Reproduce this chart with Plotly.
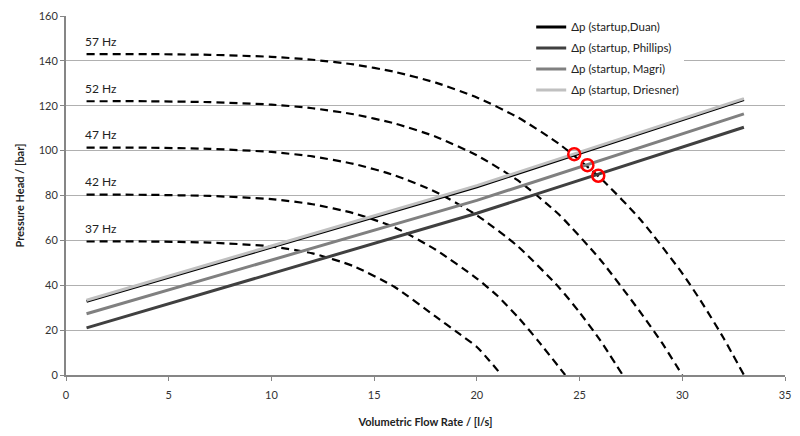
import plotly.graph_objects as go

# Pump characteristic curves (flow in l/s, head in bar) for each drive frequency
freq_labels = ["37 Hz", "42 Hz", "47 Hz", "52 Hz", "57 Hz"]

flow_37 = [1, 4, 7, 10, 12, 14, 16, 18, 19, 20, 20.6, 21.2]
head_37 = [59.5, 59.5, 59.0, 57.3, 54.2, 48.5, 39.2, 26.0, 19.3, 12.5, 6.5, 0.0]

flow_42 = [1, 4, 7, 10, 12, 14, 16, 18, 20, 21, 22, 23, 24.3]
head_42 = [80.4, 80.3, 79.8, 78.4, 76.1, 72.1, 65.8, 55.8, 43.0, 35.3, 25.8, 15.0, 0.0]

flow_47 = [1, 4, 7, 10, 12, 14, 16, 18, 20, 22, 24, 25, 26, 27.1]
head_47 = [101.3, 101.3, 100.8, 99.4, 97.4, 94.1, 89.0, 81.6, 71.2, 57.3, 39.0, 27.9, 15.5, 0.0]

flow_52 = [1, 4, 7, 10, 12, 14, 16, 18, 20, 22, 24, 26, 28, 29, 30]
head_52 = [122.0, 122.0, 121.6, 120.5, 118.9, 116.2, 112.1, 106.2, 97.9, 86.7, 71.5, 51.5, 27.5, 14.5, 0.0]

flow_57 = [1, 4, 7, 10, 12, 14, 16, 18, 20, 22, 24, 26, 28, 30, 31, 32, 33]
head_57 = [143.0, 143.0, 142.7, 141.8, 140.5, 138.4, 135.1, 130.3, 123.7, 114.8, 103.0, 87.9, 68.9, 45.3, 31.6, 16.6, 0.0]

pump_flows = [flow_37, flow_42, flow_47, flow_52, flow_57]
pump_heads = [head_37, head_42, head_47, head_52, head_57]

# Start-up pressure demand for the different correlations
system_names = ["Δp (startup,Duan)", "Δp (startup, Phillips)", "Δp (startup, Magri)", "Δp (startup, Driesner)"]
system_flow = [1, 20, 33]
dp_duan = [32.8, 83.9, 122.7]
dp_phillips = [21.0, 72.1, 110.4]
dp_magri = [27.3, 77.8, 116.4]
dp_driesner = [33.3, 84.4, 123.2]
system_heads = [dp_duan, dp_phillips, dp_magri, dp_driesner]
system_colors = ["#000000", "#404040", "#808080", "#c0c0c0"]

# Operating points at 57 Hz
op_flow = [24.74, 25.38, 25.91]
op_head = [98.4, 93.5, 88.8]

fig = go.Figure()

for q, h in zip(pump_flows, pump_heads):
    fig.add_trace(go.Scatter(
        x=q, y=h, mode="lines", showlegend=False, hoverinfo="skip",
        line=dict(color="#000000", width=2.2, dash="8px,5px", shape="spline", smoothing=0.6),
    ))

for name, h, c in zip(system_names, system_heads, system_colors):
    fig.add_trace(go.Scatter(
        x=system_flow, y=h, mode="lines", name=name, legendgroup=name,
        line=dict(color=c, width=3),
    ))

fig.add_trace(go.Scatter(
    x=op_flow, y=op_head, mode="markers", showlegend=False,
    marker=dict(symbol="circle-open", size=12, color="#ff0000", line=dict(width=2.5, color="#ff0000")),
))

for label, q, h in zip(freq_labels, pump_flows, pump_heads):
    fig.add_annotation(
        x=q[0], y=h[0], text=label, showarrow=False, xanchor="left", yanchor="middle",
        xshift=-4, yshift=13, font=dict(family="Lato", size=12, color="#222222"),
    )

fig.update_layout(
    width=800, height=436,
    margin=dict(l=66, r=9, t=15, b=60),
    paper_bgcolor="#ffffff", plot_bgcolor="#ffffff",
    font=dict(family="Lato", size=11, color="#333333"),
    legend=dict(
        x=0.647, y=1.01, xanchor="left", yanchor="top",
        bgcolor="#ffffff", borderwidth=0, tracegroupgap=2,
        font=dict(family="Lato", size=11.5, color="#222222"),
        traceorder="grouped",
    ),
    xaxis=dict(
        range=[0, 35], dtick=5, tick0=0, showgrid=False, zeroline=False,
        showline=True, linecolor="#868686", linewidth=2,
        ticks="outside", ticklen=4, tickcolor="#868686", tickwidth=1,
        ticklabelstandoff=5,
        tickfont=dict(family="Lato", size=11, color="#333333"),
        title=dict(text="<b>Volumetric Flow Rate / [l/s]</b>", standoff=18,
                   font=dict(family="Lato", size=11, color="#222222")),
    ),
    yaxis=dict(
        range=[0, 160], dtick=20, tick0=0, showgrid=True, gridcolor="#b0b0b0", gridwidth=1.2,
        zeroline=False, showline=True, linecolor="#868686", linewidth=2,
        ticks="outside", ticklen=4, tickcolor="#868686", tickwidth=1,
        tickfont=dict(family="Lato", size=11, color="#333333"),
        title=dict(text="<b>Pressure Head / [bar]</b>", standoff=12,
                   font=dict(family="Lato", size=11, color="#222222")),
    ),
)

fig.write_html("out.html")
